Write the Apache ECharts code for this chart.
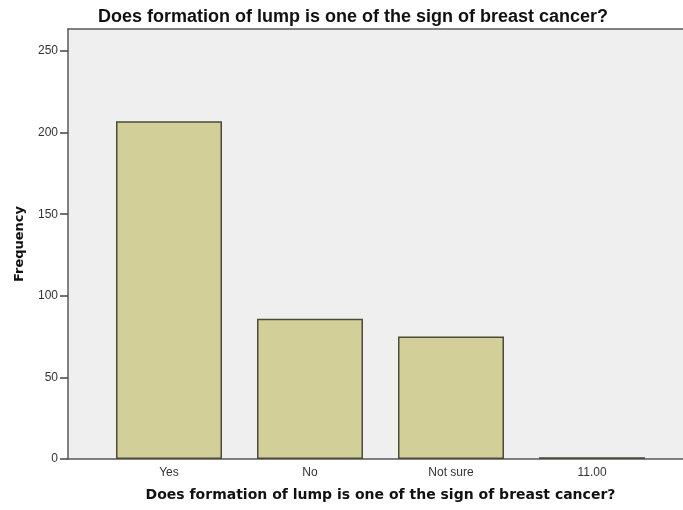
<!DOCTYPE html>
<html>
<head>
<meta charset="utf-8">
<script src="https://cdn.jsdelivr.net/npm/echarts@6/dist/echarts.min.js"></script>
<style>
  html, body { margin: 0; padding: 0; background: #fff; }
  #chart { width: 683px; height: 510px; }
</style>
</head>
<body>
<div id="chart"></div>
<script>
// data
var categories = ['Yes', 'No', 'Not sure', '11.00'];
var frequency = [207, 86, 75, 1];
var yTicks = [0, 50, 100, 150, 200, 250];

var TITLE = 'Does formation of lump is one of the sign of breast cancer?';
var Y_MAX = 263.5;
var EDGE = { color: '#5a5a5a', width: 1.5 };

var myChart = echarts.init(document.getElementById('chart'));

myChart.setOption({
  animation: false,
  title: {
    text: TITLE,
    left: 93,
    top: 3,
    textStyle: {
      fontFamily: 'Liberation Sans',
      fontSize: 18,
      fontWeight: 'bold',
      color: '#111'
    }
  },
  grid: [
    // background panel + y axis (no right edge, it runs off the picture)
    { left: 68, right: 0, top: 29, bottom: 51, show: true, outerBoundsMode: 'none',
      backgroundColor: '#efefef', borderWidth: 0 },
    // bars
    { left: 98.5, right: 20.5, top: 29, bottom: 51, outerBoundsMode: 'none' }
  ],
  xAxis: [
    { gridIndex: 0, type: 'category', data: [''], position: 'bottom',
      axisLine: { show: true, onZero: false, lineStyle: EDGE }, axisTick: { show: false }, axisLabel: { show: false } },
    { gridIndex: 0, type: 'category', data: [''], position: 'top',
      axisLine: { show: true, onZero: false, lineStyle: EDGE }, axisTick: { show: false }, axisLabel: { show: false } },
    {
      gridIndex: 1,
      type: 'category',
      data: categories,
      axisLine: { show: false, onZero: false },
      axisTick: { alignWithLabel: true, length: 6, lineStyle: { color: '#444', width: 1.5 } },
      axisLabel: { fontFamily: 'Liberation Sans', fontSize: 12, color: '#333', margin: 8 },
      name: TITLE,
      nameLocation: 'middle',
      nameGap: 29,
      nameTextStyle: {
        fontFamily: 'DejaVu Sans',
        fontSize: 14,
        fontWeight: 'bold',
        color: '#111'
      }
    }
  ],
  yAxis: [
    {
      gridIndex: 0,
      type: 'value',
      min: 0,
      max: Y_MAX,
      axisLine: { show: true, lineStyle: EDGE },
      splitLine: { show: false },
      axisTick: { show: true, length: 8, customValues: yTicks, lineStyle: { color: '#444', width: 1.5 } },
      axisLabel: { fontFamily: 'Liberation Sans', fontSize: 12, color: '#333', margin: 10, customValues: yTicks },
      name: 'Frequency',
      nameLocation: 'middle',
      nameGap: 42,
      nameTextStyle: {
        fontFamily: 'DejaVu Sans',
        fontSize: 13,
        fontWeight: 'bold',
        color: '#111'
      }
    },
    { gridIndex: 1, type: 'value', min: 0, max: Y_MAX, show: false }
  ],
  series: [
    {
      name: 'Frequency',
      type: 'bar',
      xAxisIndex: 2,
      yAxisIndex: 1,
      barWidth: 106,
      data: frequency,
      itemStyle: {
        color: '#d3cf98',
        borderColor: '#4b4b3b',
        borderWidth: 1.5
      }
    }
  ]
});
</script>
</body>
</html>
